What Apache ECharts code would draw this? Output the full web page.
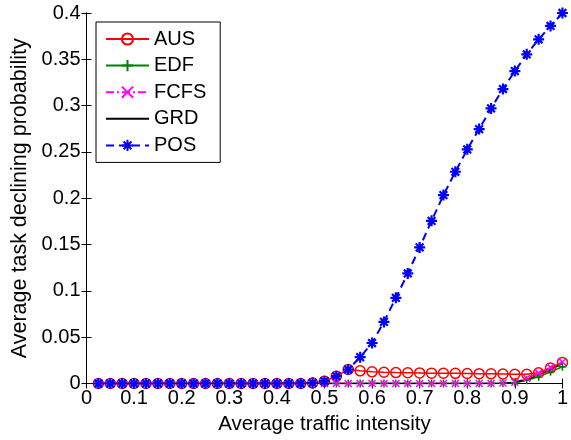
<!DOCTYPE html>
<html>
<head>
<meta charset="utf-8">
<script src="https://cdn.jsdelivr.net/npm/echarts@6/dist/echarts.min.js"></script>
<style>
  html, body { margin: 0; padding: 0; background: #fff; }
  #chart { width: 571px; height: 440px; }
</style>
</head>
<body>
<div id="chart"></div>
<script>
// Average traffic intensity (x) sampled every 0.025
const intensity = [
  0.025, 0.05, 0.075, 0.1, 0.125, 0.15, 0.175, 0.2, 0.225, 0.25,
  0.275, 0.3, 0.325, 0.35, 0.375, 0.4, 0.425, 0.45, 0.475, 0.5,
  0.525, 0.55, 0.575, 0.6, 0.625, 0.65, 0.675, 0.7, 0.725, 0.75,
  0.775, 0.8, 0.825, 0.85, 0.875, 0.9, 0.925, 0.95, 0.975, 1.0
];

// Average task declining probability per scheduling policy
const aus = [
  0, 0, 0, 0, 0, 0, 0, 0, 0, 0,
  0, 0, 0, 0, 0, 0, 0, 0, 0.0006, 0.0025,
  0.0079, 0.0152, 0.0137, 0.0126, 0.0121, 0.0118, 0.0116, 0.0114, 0.0112, 0.0111,
  0.0110, 0.0108, 0.0106, 0.0104, 0.0102, 0.0099, 0.0100, 0.0116, 0.0168, 0.0228
];
const edf = [
  0, 0, 0, 0, 0, 0, 0, 0, 0, 0,
  0, 0, 0, 0, 0, 0, 0, 0, 0, 0,
  0, 0, 0, 0, 0, 0, 0, 0, 0, 0,
  0, 0, 0, 0, 0.0002, 0.0007, 0.0036, 0.0072, 0.0127, 0.0180
];
const fcfs = [
  0, 0, 0, 0, 0, 0, 0, 0, 0, 0,
  0, 0, 0, 0, 0, 0, 0, 0, 0, 0,
  0, 0, 0, 0, 0, 0, 0, 0, 0, 0,
  0, 0, 0, 0, 0.0005, 0.0014, 0.0056, 0.0112, 0.0174, 0.0233
];
const grd = [
  0, 0, 0, 0, 0, 0, 0, 0, 0, 0,
  0, 0, 0, 0, 0, 0, 0, 0, 0, 0,
  0, 0, 0, 0, 0, 0, 0, 0, 0, 0,
  0, 0, 0, 0.0001, 0.0004, 0.0011, 0.0043, 0.0090, 0.0151, 0.0216
];
const pos = [
  0, 0, 0, 0, 0, 0, 0, 0, 0, 0,
  0, 0, 0, 0, 0, 0, 0, 0, 0.0006, 0.0025,
  0.0079, 0.0151, 0.0284, 0.0437, 0.0665, 0.0925, 0.1188, 0.1469, 0.1756, 0.2034,
  0.2286, 0.2528, 0.2747, 0.2970, 0.3179, 0.3373, 0.3554, 0.3716, 0.3860, 0.4000
];

const FONT = 'Liberation Sans';
const pairs = ys => intensity.map((x, i) => [x, ys[i]]);

// stroked marker shapes
const PLUS = 'path://M0,-10L0,10M-10,0L10,0';
const CROSS = 'path://M-10,-10L10,10M-10,10L10,-10';
const STAR = 'path://M0,-10L0,10M-10,0L10,0M-7,-7L7,7M-7,7L7,-7';

function lineSeries(name, ys, color, symbol, size, dash, markerFill, width, markerWidth) {
  return {
    name: name,
    type: 'line',
    data: pairs(ys),
    symbol: symbol,
    symbolSize: size,
    showSymbol: symbol !== 'none',
    animation: false,
    lineStyle: { color: color, width: width, type: dash },
    itemStyle: { color: markerFill, borderColor: color, borderWidth: markerWidth }
  };
}

const chart = echarts.init(document.getElementById('chart'), null, { renderer: 'canvas' });

const axisCommon = {
  type: 'value',
  axisLine: { show: true, lineStyle: { color: '#000', width: 1 } },
  axisTick: { show: true, inside: true, length: 5, lineStyle: { color: '#000' } },
  splitLine: { show: false }
};

chart.setOption({
  backgroundColor: '#fff',
  animation: false,
  textStyle: { fontFamily: FONT, color: '#000' },
  grid: { left: 86.5, right: 7.5, top: 13, bottom: 56.5, containLabel: false },
  legend: {
    orient: 'vertical',
    left: 96,
    top: 22,
    itemWidth: 43,
    itemHeight: 14,
    itemGap: 6.6,
    padding: [7, 14, 7, 9],
    borderColor: '#000',
    borderWidth: 1,
    backgroundColor: '#fff',
    textStyle: { fontFamily: FONT, fontSize: 20, color: '#000', lineHeight: 20 },
    data: [
      'AUS', 'EDF', 'FCFS',
      { name: 'GRD', itemStyle: { color: 'rgba(0,0,0,0)', borderColor: 'rgba(0,0,0,0)', borderWidth: 0 } },
      'POS'
    ]
  },
  xAxis: [
    Object.assign({}, axisCommon, {
      position: 'bottom', min: 0, max: 1, interval: 0.1,
      name: 'Average traffic intensity',
      nameLocation: 'middle', nameGap: 30,
      nameTextStyle: { fontFamily: FONT, fontSize: 20.5, color: '#000' },
      axisLabel: { show: true, margin: 5, fontFamily: FONT, fontSize: 20, color: '#000' }
    }),
    Object.assign({}, axisCommon, {
      position: 'top', min: 0, max: 1, interval: 0.1,
      axisLabel: { show: false }
    })
  ],
  yAxis: [
    Object.assign({}, axisCommon, {
      position: 'left', min: 0, max: 0.4, interval: 0.05,
      name: 'Average task declining probability',
      nameLocation: 'middle', nameGap: 45,
      nameTextStyle: { fontFamily: FONT, fontSize: 21.5, color: '#000' },
      axisLabel: { show: true, margin: 6, fontFamily: FONT, fontSize: 20, color: '#000' }
    }),
    Object.assign({}, axisCommon, {
      position: 'right', min: 0, max: 0.4, interval: 0.05,
      axisLabel: { show: false }
    })
  ],
  series: [
    lineSeries('AUS', aus, '#ff0000', 'circle', 10, 'solid', 'rgba(255,255,255,0)', 1.5, 1.5),
    lineSeries('EDF', edf, '#008000', PLUS, 8, 'solid', '#008000', 1.5, 1.5),
    lineSeries('FCFS', fcfs, '#ff00ff', CROSS, 7, [8, 3, 2, 3], '#ff00ff', 1.5, 1.5),
    lineSeries('GRD', grd, '#000000', 'none', 0, 'solid', '#000000', 1.5, 0),
    lineSeries('POS', pos, '#0000ff', STAR, 11, [8, 5], '#0000ff', 2, 2.2)
  ]
});
</script>
</body>
</html>
